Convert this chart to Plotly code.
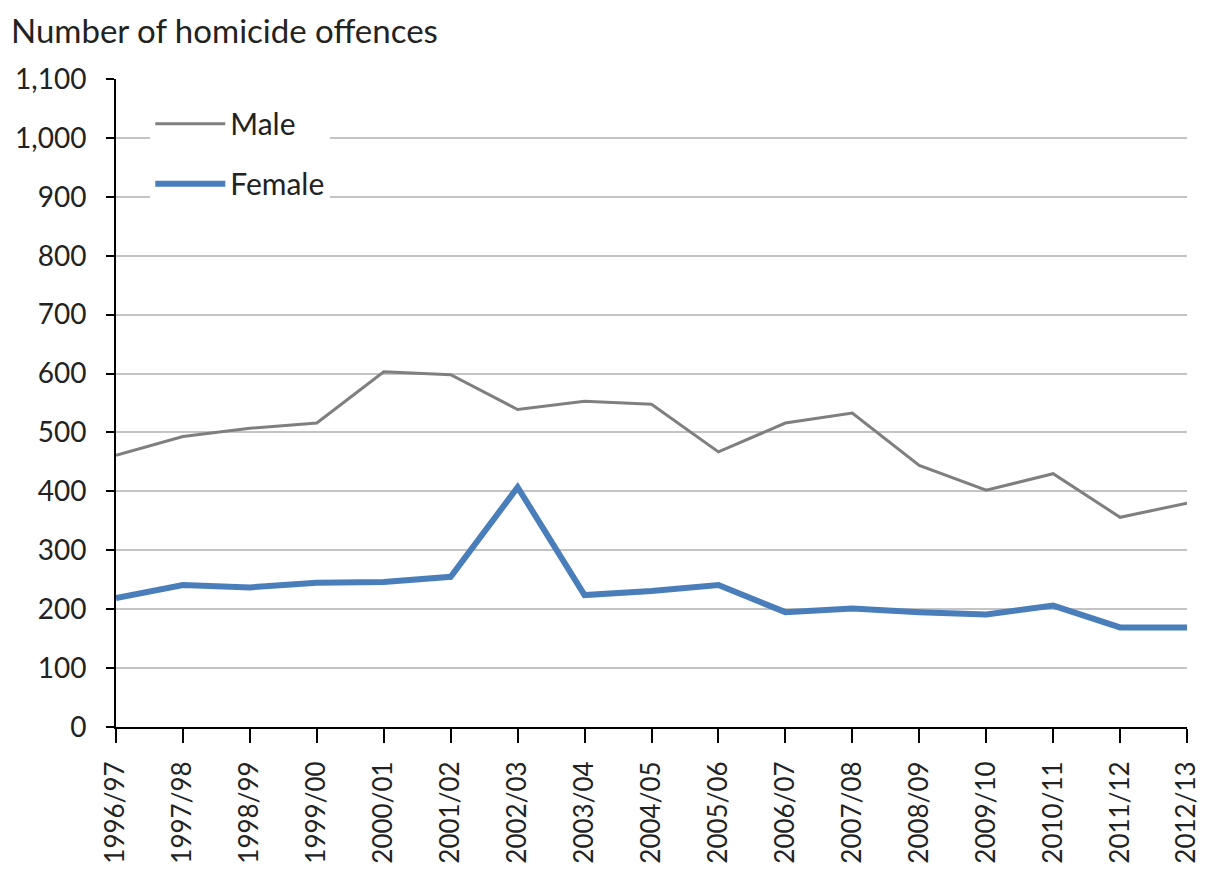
import plotly.graph_objects as go

# Financial years on the x axis
years = [
    "1996/97", "1997/98", "1998/99", "1999/00", "2000/01", "2001/02",
    "2002/03", "2003/04", "2004/05", "2005/06", "2006/07", "2007/08",
    "2008/09", "2009/10", "2010/11", "2011/12", "2012/13",
]

# Number of homicide offences
male = [461, 493, 507, 516, 603, 598, 539, 553, 548, 467, 516, 533, 444, 402, 430, 356, 380]
female = [219, 241, 237, 245, 246, 255, 407, 224, 231, 241, 195, 201, 195, 191, 206, 169, 169]

y_ticks = list(range(0, 1101, 100))

FONT = "Lato, 'Open Sans', sans-serif"
TEXT = "#222222"

xpos = list(range(len(years)))

fig = go.Figure()
fig.add_trace(go.Scatter(
    x=xpos, y=male, mode="lines", name="Male",
    legendgroup="m", line=dict(color="#7f7f7f", width=3),
))
fig.add_trace(go.Scatter(
    x=xpos, y=female, mode="lines", name="Female",
    legendgroup="f", line=dict(color="#4a7ebb", width=6),
))

# page body has an 8px margin, so shift the figure up/left by that much
fig.update_layout(
    width=1197,
    height=857,
    margin=dict(l=108, r=18, t=71, b=138, autoexpand=False),
    paper_bgcolor="white",
    plot_bgcolor="white",
    font=dict(family=FONT, size=28, color=TEXT),
    showlegend=True,
    legend=dict(
        x=0.032, y=0.971, xanchor="left", yanchor="top",
        bgcolor="white",
        font=dict(family=FONT, size=30, color=TEXT),
        traceorder="grouped",
        tracegroupgap=18,
        itemwidth=70,
        borderwidth=0,
    ),
    annotations=[dict(
        text="Number of homicide offences",
        xref="paper", yref="paper", x=-0.0995, y=1.0756,
        xanchor="left", yanchor="middle", showarrow=False,
        font=dict(family=FONT, size=33, color=TEXT),
    )],
)

fig.update_xaxes(
    range=[0, len(years) - 1],
    tickmode="array", tickvals=xpos, ticktext=years,
    tickangle=-90,
    ticks="outside", ticklen=14, tickwidth=2, tickcolor="black",
    ticklabelstandoff=8,
    ticklabeloverflow="allow",
    automargin=False,
    showline=True, linecolor="black", linewidth=2,
    showgrid=False, zeroline=False,
    tickfont=dict(family=FONT, size=26, color=TEXT),
)
fig.update_yaxes(
    range=[0, 1100],
    tickmode="array", tickvals=y_ticks,
    ticktext=[f"{v:,}" for v in y_ticks],
    ticks="outside", ticklen=8, tickwidth=2, tickcolor="black",
    ticklabelstandoff=14,
    automargin=False,
    showline=True, linecolor="black", linewidth=2,
    showgrid=True, gridcolor="#c4c4c4", gridwidth=1.5,
    zeroline=False,
    tickfont=dict(family=FONT, size=28, color=TEXT),
)

fig.write_html("out.html")
